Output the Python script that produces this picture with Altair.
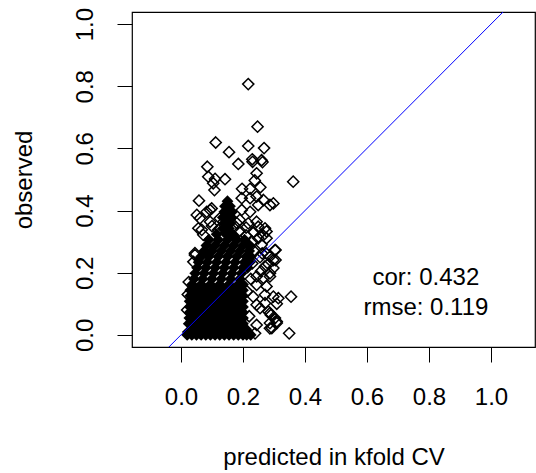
import altair as alt
import pandas as pd

# ---- data ----
# dense, over-plotted core (rendered as solid diamonds, the way thousands of overlapping outlines look)
core_rows_y = [0.000, 0.009, 0.018, 0.036, 0.054, 0.072, 0.090, 0.108, 0.126, 0.144, 0.162,
               0.180, 0.198, 0.216, 0.234, 0.252, 0.270, 0.288, 0.306, 0.324, 0.342,
               0.360, 0.378, 0.396, 0.414, 0.430]
core_rows_x = [
    [0.02, 0.035, 0.05, 0.065, 0.08, 0.095, 0.11, 0.125, 0.14, 0.155, 0.17, 0.185,
     0.20, 0.212, 0.225],
    [0.022, 0.215],
    [0.035, 0.065, 0.095, 0.125, 0.155, 0.185, 0.21],
    [0.025, 0.05, 0.08, 0.11, 0.14, 0.17, 0.20],
    [0.027, 0.035, 0.065, 0.095, 0.125, 0.155, 0.185, 0.20],
    [0.028, 0.05, 0.08, 0.11, 0.14, 0.17, 0.20],
    [0.029, 0.035, 0.065, 0.095, 0.125, 0.155, 0.185, 0.20],
    [0.028, 0.05, 0.08, 0.11, 0.14, 0.17, 0.20],
    [0.03, 0.035, 0.065, 0.095, 0.125, 0.155, 0.185, 0.20],
    [0.03, 0.05, 0.08, 0.11, 0.14, 0.17, 0.20],
    [0.036, 0.065, 0.095, 0.125, 0.155, 0.185, 0.20],
    [0.042, 0.07, 0.10, 0.13, 0.16, 0.19],
    [0.046, 0.075, 0.105, 0.135, 0.165, 0.195],
    [0.052, 0.08, 0.11, 0.14, 0.17, 0.20, 0.215],
    [0.057, 0.085, 0.115, 0.145, 0.175, 0.205, 0.222],
    [0.065, 0.09, 0.12, 0.15, 0.18, 0.21, 0.225],
    [0.075, 0.10, 0.13, 0.16, 0.19, 0.22],
    [0.082, 0.11, 0.14, 0.17, 0.20, 0.22],
    [0.09, 0.12, 0.15, 0.18, 0.205],
    [0.115, 0.145, 0.165],
    [0.135, 0.155],
    [0.14, 0.16],
    [0.135, 0.15, 0.163],
    [0.14, 0.155, 0.165],
    [0.142, 0.158],
    [0.15],
]

# individually visible open diamonds
sparse_x = [0.217, 0.247, 0.112, 0.155, 0.217, 0.268, 0.230, 0.260, 0.263, 0.185, 0.085, 0.231,
            0.362, 0.088, 0.110, 0.142, 0.104, 0.108, 0.244, 0.238, 0.256, 0.197, 0.223,
            0.058, 0.196, 0.223, 0.244, 0.266, 0.099, 0.083, 0.196, 0.223, 0.249, 0.287, 0.298,
            0.051, 0.137, 0.190, 0.217, 0.244, 0.056, 0.067, 0.120, 0.249, 0.271, 0.276, 0.045,
            0.276, 0.249, 0.303, 0.287, 0.061, 0.094, 0.072, 0.126, 0.094, 0.045,
            0.298, 0.271, 0.298, 0.282, 0.244, 0.266, 0.287, 0.244, 0.276, 0.233, 0.271, 0.298,
            0.314, 0.355, 0.244, 0.271, 0.255, 0.282, 0.287, 0.303, 0.287, 0.309, 0.287, 0.244,
            0.239, 0.349, 0.309, 0.290, 0.309, 0.293, 0.305, 0.305, 0.287, 0.258, 0.262, 0.275,
            0.222, 0.235, 0.255, 0.230, 0.210, 0.260, 0.235, 0.265, 0.213, 0.220, 0.225, 0.230,
            0.170, 0.190, 0.210, 0.100, 0.180, 0.125, 0.020, 0.022, 0.025, 0.040]
sparse_y = [0.807, 0.670, 0.619, 0.588, 0.608, 0.601, 0.565, 0.562, 0.556, 0.550, 0.541, 0.557,
            0.493, 0.509, 0.502, 0.501, 0.488, 0.466, 0.520, 0.497, 0.475, 0.470, 0.470,
            0.432, 0.440, 0.440, 0.445, 0.434, 0.407, 0.396, 0.402, 0.396, 0.418, 0.418, 0.423,
            0.386, 0.364, 0.370, 0.359, 0.364, 0.343, 0.338, 0.338, 0.348, 0.343, 0.333, 0.263,
            0.311, 0.311, 0.273, 0.252, 0.375, 0.402, 0.322, 0.343, 0.364, 0.257,
            0.241, 0.220, 0.215, 0.228, 0.188, 0.183, 0.188, 0.161, 0.156, 0.123, 0.129, 0.123,
            0.118, 0.123, 0.097, 0.102, 0.086, 0.075, 0.070, 0.054, 0.038, 0.038, 0.021, 0.032,
            0.005, 0.005, 0.100, 0.064, 0.043, 0.022, 0.273, 0.241, 0.198, 0.205, 0.262, 0.262,
            0.285, 0.270, 0.250, 0.300, 0.320, 0.290, 0.330, 0.320, 0.140, 0.060, 0.180, 0.230,
            0.345, 0.335, 0.345, 0.350, 0.360, 0.375, 0.080, 0.130, 0.170, 0.235]

# 1:1 reference line ends
line_ends = [-0.2, 1.2]

# annotation
stat_labels = ["cor: 0.432", "rmse: 0.119"]
stat_x = [0.79, 0.79]
stat_y = [0.161, 0.064]

x_ticks = [0.0, 0.2, 0.4, 0.6, 0.8, 1.0]
y_ticks = [0.0, 0.2, 0.4, 0.6, 0.8, 1.0]

# ---- tables ----
core_df = pd.DataFrame(
    [(x, y) for y, xs in zip(core_rows_y, core_rows_x) for x in xs],
    columns=["pred", "obs"])
sparse_df = pd.DataFrame({"pred": sparse_x, "obs": sparse_y})
line_df = pd.DataFrame({"pred": line_ends, "obs": line_ends})
text_df = pd.DataFrame({"pred": stat_x, "obs": stat_y, "label": stat_labels})

FONT = "Liberation Sans"
FS = 24
DIAMOND = "M0,-1L1,0L0,1L-1,0Z"   # square diamond like R's pch 5

xscale = alt.Scale(domain=[-0.158, 1.142], nice=False, zero=False)
yscale = alt.Scale(domain=[-0.039, 1.039], nice=False, zero=False)

xaxis = alt.Axis(values=x_ticks, format=".1f", title="predicted in kfold CV",
                 grid=False, domain=False, tickSize=15, tickColor="black", tickWidth=1,
                 labelFont=FONT, labelFontSize=FS, labelColor="black", labelPadding=23,
                 labelBaseline="top", labelOverlap=False, labelFlush=False,
                 titleFont=FONT, titleFontSize=FS, titleFontWeight="normal", titleColor="black",
                 titleX=201.5, titleY=117.5, titleBaseline="alphabetic", titleAlign="center")
yaxis = alt.Axis(values=y_ticks, format=".1f", title="observed",
                 grid=False, domain=False, tickSize=15, tickColor="black", tickWidth=1,
                 labelFont=FONT, labelFontSize=FS, labelColor="black", labelPadding=25,
                 labelAngle=270, labelAlign="center", labelBaseline="alphabetic",
                 labelOverlap=False, labelFlush=False,
                 titleFont=FONT, titleFontSize=FS, titleFontWeight="normal", titleColor="black",
                 titleX=-101, titleY=167.5, titleAngle=270, titleBaseline="alphabetic",
                 titleAlign="center")

X = alt.X("pred:Q", scale=xscale, axis=xaxis)
Y = alt.Y("obs:Q", scale=yscale, axis=yaxis)

core = alt.Chart(core_df).mark_point(
    shape=DIAMOND, filled=True, color="black", size=140, strokeWidth=1.5, opacity=1
).encode(x=X, y=Y)

sparse = alt.Chart(sparse_df).mark_point(
    shape=DIAMOND, filled=False, color="black", size=125, strokeWidth=1.5, opacity=1
).encode(x=X, y=Y)

line = alt.Chart(line_df).mark_line(color="#0000FF", strokeWidth=1, clip=True).encode(
    x=alt.X("pred:Q", scale=xscale), y=alt.Y("obs:Q", scale=yscale))

text = alt.Chart(text_df).mark_text(
    font=FONT, fontSize=FS, color="black", align="center", baseline="alphabetic"
).encode(x=alt.X("pred:Q", scale=xscale), y=alt.Y("obs:Q", scale=yscale), text="label:N")

chart = alt.layer(core, sparse, line, text).properties(
    width=403, height=335,
    autosize=alt.AutoSizeParams(type="none"),
    padding={"left": 132, "top": 12, "right": 1, "bottom": 126},
    background="white",
).configure_view(stroke="black", strokeWidth=1.2)

chart.save("out.html", embed_options={"renderer": "svg", "actions": False})
